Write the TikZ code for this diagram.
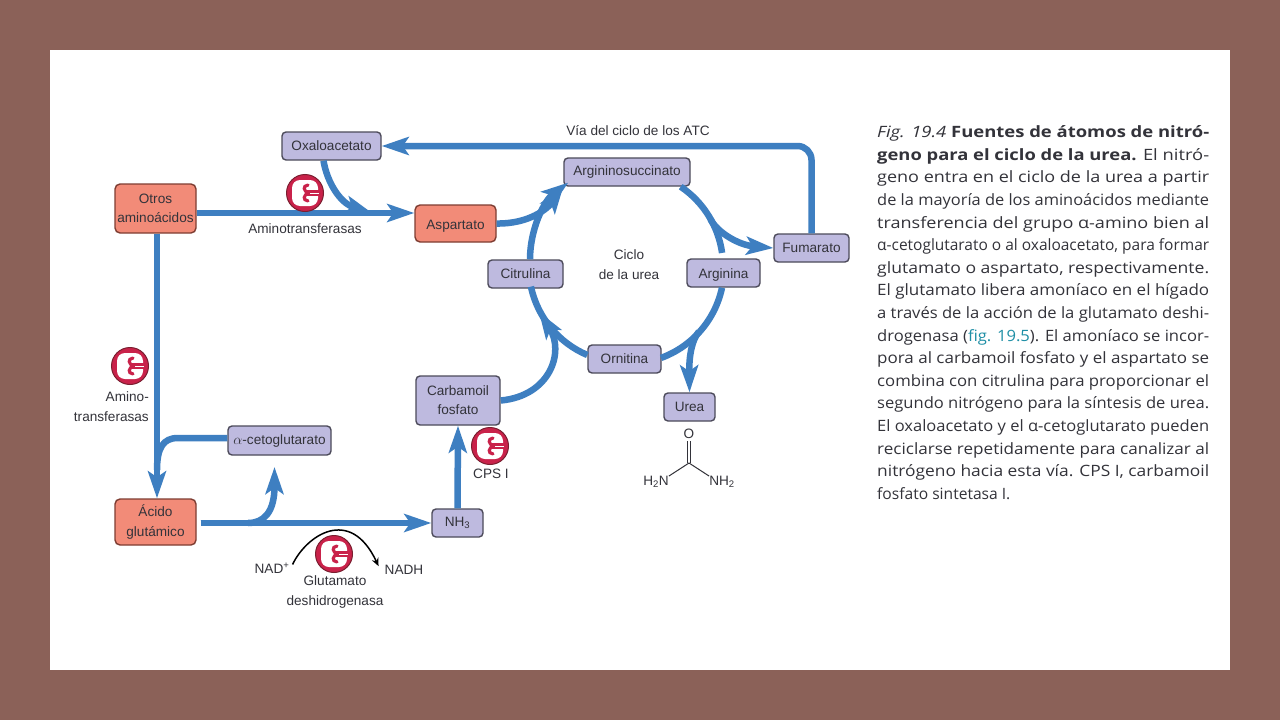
\documentclass[tikz,border=0pt]{standalone}
\usepackage{fontspec}
\usepackage{graphicx}
\setmainfont{Liberation Sans}
\newfontfamily\capfont{Open Sans}
\usetikzlibrary{arrows.meta,calc}
\definecolor{bgbrown}{HTML}{8B6158}
\definecolor{flowblue}{HTML}{3E7FC1}
\definecolor{lav}{HTML}{BEBADF}
\definecolor{lavedge}{HTML}{4C4A5A}
\definecolor{salmon}{HTML}{F28B78}
\definecolor{salmonedge}{HTML}{7E3D32}
\definecolor{enzred}{HTML}{C9224A}
\definecolor{enzedge}{HTML}{7A1F30}
\definecolor{txt}{HTML}{33333A}
\definecolor{linkteal}{HTML}{1E8FA6}
\newsavebox{\caplinebox}
\newcommand{\capline}[1]{\sbox{\caplinebox}{#1}\pgfmathsetmacro{\caplineratio}{332/\the\wd\caplinebox}\noindent\scalebox{\caplineratio}[1]{\usebox{\caplinebox}}\par}
\newcommand{\lowered}[2]{\raisebox{-#1}[\height][\depth]{#2}}
\tikzset{
  lavbox/.style={draw=lavedge,fill=lav,line width=1.4pt,rounded corners=4pt,inner sep=0pt,align=center,text=txt,font=\fontsize{13.6}{19}\selectfont},
  redbox/.style={draw=salmonedge,fill=salmon,line width=1.4pt,rounded corners=5pt,inner sep=0pt,align=center,text=txt,font=\fontsize{13.6}{19.5}\selectfont},
  flow/.style={draw=flowblue,line width=6.5pt},
  flowhead/.style={flow,-{Stealth[length=27pt,width=18pt,inset=6pt]}},
  lbl/.style={inner sep=0pt,align=center,text=txt,font=\fontsize{13.6}{20}\selectfont},
  enzyme/.pic={
    \fill[enzred,draw=enzedge,line width=1pt] (0,0) circle[radius=18.5];
    \fill[white,rounded corners=8pt] (-13,-13) rectangle (13,13);
    \fill[enzred] (2,-2.6) rectangle (15,2.6);
    \draw[enzred,line width=3.2pt,line cap=round] (3,0) .. controls (-1,-2) and (-3,-7) .. (3,-8);
    \draw[enzred,line width=3.2pt,line cap=round] (3,0) .. controls (-1,2) and (-3,7) .. (3,8);
    \draw[white,line width=1pt] (5,0) -- (14,0);
  }
}
\begin{document}
\begin{tikzpicture}[x=1pt,y=-1pt]
\useasboundingbox (0,0) rectangle (1280,720);
\fill[bgbrown] (0,0) rectangle (1280,720);
\fill[white] (50,50) rectangle (1230,670);

% helper coordinates
\coordinate (joinA) at (372,213);
\coordinate (branchF) at (710.3,219);
\coordinate (branchU) at (699,331.5);
\coordinate (cycIn) at (539,312);
\coordinate (mergeK) at (157,470);
\coordinate (cetoTip) at (274.5,467);
\coordinate (branchK) at (248,523);

\node[lavbox,minimum width=99pt,minimum height=28pt] (ox) at (331.5,146) {Oxaloacetato};
\node[redbox,minimum width=81pt,minimum height=49pt] (otros) at (155.5,208.5) {Otros\\aminoácidos};
\node[redbox,minimum width=81pt,minimum height=37pt] (asp) at (455.5,223.5) {\lowered{2.5pt}{Aspartato}};
\node[lavbox,minimum width=126pt,minimum height=28pt] (argsuc) at (627,172) {Argininosuccinato};
\node[lavbox,minimum width=75pt,minimum height=28pt] (cit) at (525.5,274) {Citrulina};
\node[lavbox,minimum width=73pt,minimum height=28pt] (arg) at (723.5,273) {\lowered{1.5pt}{Arginina}};
\node[lavbox,minimum width=75pt,minimum height=28pt] (fum) at (811.5,248) {Fumarato};
\node[lavbox,minimum width=73pt,minimum height=28pt] (orn) at (624.5,359) {Ornitina};
\node[lavbox,minimum width=84pt,minimum height=49pt] (carb) at (458,400.5) {Carbamoil\\fosfato};
\node[lavbox,minimum width=51pt,minimum height=28pt] (urea) at (689.5,407) {Urea};
\node[lavbox,minimum width=103pt,minimum height=29pt] (ceto) at (279.5,440.5) {$\alpha$-cetoglutarato};
\node[redbox,minimum width=81pt,minimum height=46pt] (acido) at (155.5,522) {Ácido\\glutámico};
\node[lavbox,minimum width=51pt,minimum height=28pt] (nh3) at (457.5,523) {NH\textsubscript{3}};

\draw[flowhead,rounded corners=14pt] (fum.north) |- (ox.east);
\draw[flowhead] ([yshift=-4.5pt]otros.east) -- ([yshift=10.5pt]asp.west);
\draw[flowhead] ([xshift=-8pt]ox.south) .. controls (327,182) and (340,203) .. (joinA);
\draw[flowhead] (asp.east) .. controls (530,224) and (548,208) .. (argsuc.south west);
\draw[flowhead] ([xshift=1.5pt]otros.south) -- ([xshift=1.5pt]acido.north);
\draw[flow] ([yshift=2.5pt]ceto.west) -- (178,438) .. controls (163,438) and (157,448) .. (mergeK);
\draw[flow] ([xshift=4pt]acido.east |- nh3.west) -- (branchK);
\draw[flowhead] ([xshift=4pt]acido.east |- nh3.west) -- (nh3.west);
\draw[flowhead] (branchK) .. controls (264,523) and (274.5,512) .. (cetoTip);
\draw[flowhead] (nh3.north) -- (carb.south);
\draw[flowhead] (carb.east) .. controls (550,396) and (565,352) .. (cycIn);
% cycle arcs
\draw[flowhead] ([xshift=4.5pt]cit.north) arc[start angle=180,end angle=127,x radius=96,y radius=-96];
\draw[flow] ([xshift=-10pt]argsuc.south east) arc[start angle=56,end angle=8,x radius=96,y radius=-96];
\draw[flow] ([xshift=-1.5pt]arg.south) arc[start angle=-12,end angle=-70,x radius=96,y radius=-96];
\draw[flow] ([yshift=4pt]orn.west) arc[start angle=247,end angle=192,x radius=96,y radius=-96];
\draw[flowhead] (branchF) .. controls (717,232) and (738,245) .. (fum.west);
\draw[flowhead] (branchU) .. controls (692,340) and (689,355) .. (urea.north);

% enzymes
\pic at (305,193) {enzyme};
\pic at (130,366) {enzyme};
\pic at (490,446) {enzyme};
\pic at (334,554) {enzyme};

% labels
\node[lbl] (via) at (638,131) {Vía del ciclo de los ATC};
\node[lbl] (amt) at (305,229) {Aminotransferasas};
\node[lbl,align=right,anchor=east] (amt2) at (149,407) {Amino-\\transferasas};
\node[lbl] (cps) at (491,474) {CPS I};
\node[lbl] (ciclo) at (629,265) {Ciclo\\de la urea};
\node[lbl] (nadp) at (272,568) {NAD\textsuperscript{+}};
\node[lbl] (nadh) at (404,570) {NADH};
\node[lbl] (gdh) at (335,592) {Glutamato\\deshidrogenasa};
\draw[black,line width=1.5pt,-{Stealth[length=8pt,width=7pt]}] ([xshift=3pt,yshift=-2pt]nadp.north east)
  .. controls (306,536) and (350,505) .. ([xshift=-6pt,yshift=-1pt]nadh.north west);

% urea structure
\node[lbl] (oo) at (689,434) {O};
\node[lbl] (h2n) at (656,482) {H\textsubscript{2}N};
\node[lbl] (nh2) at (722,482) {NH\textsubscript{2}};
\coordinate (cc) at (689,463);
\draw[txt,line width=1pt] (687.5,441) -- (687.5,463) (690.5,441) -- (690.5,463);
\draw[txt,line width=1pt] (cc) -- (h2n.north east) (cc) -- (nh2.north west);

% caption
\node[anchor=north west,inner sep=0pt,text=txt] (cap) at (877,125.5) {%
\parbox[t]{340pt}{\capfont\fontsize{15.6}{22.6}\selectfont\parindent=0pt\hbadness=10000\hfuzz=60pt
\capline{\textit{Fig. 19.4} \textbf{Fuentes de átomos de nitró-}}
\capline{\textbf{geno para el ciclo de la urea.} El nitró-}
\capline{geno entra en el ciclo de la urea a partir}
\capline{de la mayoría de los aminoácidos mediante}
\capline{transferencia del grupo α-amino bien al}
\capline{α-cetoglutarato o al oxaloacetato, para formar}
\capline{glutamato o aspartato, respectivamente.}
\capline{El glutamato libera amoníaco en el hígado}
\capline{a través de la acción de la glutamato deshi-}
\capline{drogenasa ({\color{linkteal}fig. 19.5}). El amoníaco se incor-}
\capline{pora al carbamoil fosfato y el aspartato se}
\capline{combina con citrulina para proporcionar el}
\capline{segundo nitrógeno para la síntesis de urea.}
\capline{El oxaloacetato y el α-cetoglutarato pueden}
\capline{reciclarse repetidamente para canalizar al}
\capline{nitrógeno hacia esta vía. CPS I, carbamoil}
\noindent fosfato sintetasa I.\par}};
\end{tikzpicture}
\end{document}
